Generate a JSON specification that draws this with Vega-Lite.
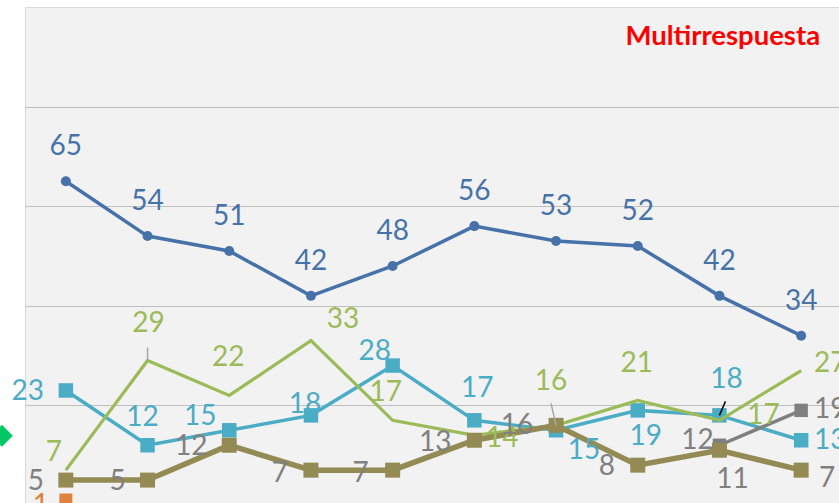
{
  "$schema": "https://vega.github.io/schema/vega-lite/v6.json",
  "width": 817,
  "height": 498,
  "autosize": {"type": "none"},
  "padding": {"left": 25, "top": 7, "right": 0, "bottom": 0},
  "background": "white",
  "config": {
    "view": {"fill": "#F2F2F2", "stroke": "#D9D9D9", "strokeWidth": 1},
    "font": "Lato"
  },
  "data": {
    "values": [
      {"p": 1, "s": "A", "v": 65}, {"p": 2, "s": "A", "v": 54}, {"p": 3, "s": "A", "v": 51}, {"p": 4, "s": "A", "v": 42}, {"p": 5, "s": "A", "v": 48},
      {"p": 6, "s": "A", "v": 56}, {"p": 7, "s": "A", "v": 53}, {"p": 8, "s": "A", "v": 52}, {"p": 9, "s": "A", "v": 42}, {"p": 10, "s": "A", "v": 34},
      {"p": 1, "s": "B", "v": 23}, {"p": 2, "s": "B", "v": 12}, {"p": 3, "s": "B", "v": 15}, {"p": 4, "s": "B", "v": 18}, {"p": 5, "s": "B", "v": 28},
      {"p": 6, "s": "B", "v": 17}, {"p": 7, "s": "B", "v": 15}, {"p": 8, "s": "B", "v": 19}, {"p": 9, "s": "B", "v": 18}, {"p": 10, "s": "B", "v": 13},
      {"p": 1, "s": "C", "v": 7}, {"p": 2, "s": "C", "v": 29}, {"p": 3, "s": "C", "v": 22}, {"p": 4, "s": "C", "v": 33}, {"p": 5, "s": "C", "v": 17},
      {"p": 6, "s": "C", "v": 14}, {"p": 7, "s": "C", "v": 16}, {"p": 8, "s": "C", "v": 21}, {"p": 9, "s": "C", "v": 17}, {"p": 10, "s": "C", "v": 27},
      {"p": 1, "s": "D", "v": 5}, {"p": 2, "s": "D", "v": 5}, {"p": 3, "s": "D", "v": 12}, {"p": 4, "s": "D", "v": 7}, {"p": 5, "s": "D", "v": 7},
      {"p": 6, "s": "D", "v": 13}, {"p": 7, "s": "D", "v": 16}, {"p": 8, "s": "D", "v": 8}, {"p": 9, "s": "D", "v": 11}, {"p": 10, "s": "D", "v": 7},
      {"p": 9, "s": "E", "v": 12}, {"p": 10, "s": "E", "v": 19},
      {"p": 1, "s": "F", "v": 1},
      {"p": 1, "s": "G", "v": 13.9}
    ]
  },
  "encoding": {
    "x": {"field": "p", "type": "ordinal", "scale": {"type": "point", "padding": 0.5}, "axis": null},
    "y": {
      "field": "v", "type": "quantitative",
      "scale": {"domain": [0, 100], "nice": false},
      "axis": {"grid": true, "gridColor": "#BFBFBF", "gridWidth": 1, "values": [20, 40, 60, 80], "labels": false, "ticks": false, "domain": false, "title": null}
    }
  },
  "layer": [
    {"transform": [{"filter": "datum.s=='B'"}], "mark": {"type": "line", "color": "#4BACC6", "strokeWidth": 3.5}},
    {"transform": [{"filter": "datum.s=='B'"}], "mark": {"type": "point", "shape": "square", "filled": true, "opacity": 1, "size": 210, "color": "#4BACC6"}},
    {"transform": [{"filter": "datum.s=='C'"}], "mark": {"type": "line", "color": "#9BBB59", "strokeWidth": 3.2}},
    {"transform": [{"filter": "datum.s=='E'"}], "mark": {"type": "line", "color": "#7F7F7F", "strokeWidth": 3.5}},
    {"transform": [{"filter": "datum.s=='E'"}], "mark": {"type": "point", "shape": "square", "filled": true, "opacity": 1, "size": 180, "color": "#7F7F7F"}},
    {"transform": [{"filter": "datum.s=='D'"}], "mark": {"type": "line", "color": "#948A54", "strokeWidth": 5.5}},
    {"transform": [{"filter": "datum.s=='D'"}], "mark": {"type": "point", "shape": "square", "filled": true, "opacity": 1, "size": 225, "color": "#948A54"}},
    {"transform": [{"filter": "datum.s=='A'"}], "mark": {"type": "line", "color": "#4672A9", "strokeWidth": 3.5}},
    {"transform": [{"filter": "datum.s=='A'"}], "mark": {"type": "point", "shape": "circle", "filled": true, "opacity": 1, "size": 100, "color": "#4672A9"}},
    {"transform": [{"filter": "datum.s=='F'"}], "mark": {"type": "point", "shape": "square", "filled": true, "opacity": 1, "size": 170, "color": "#E0823D"}},
    {"transform": [{"filter": "datum.s=='G'"}], "mark": {"type": "point", "shape": "diamond", "filled": true, "opacity": 1, "size": 480, "color": "#00C864", "xOffset": -64}},
    {"transform": [{"filter": "datum.s=='C' && datum.p==2"}], "mark": {"type": "rule", "color": "#A6A6A6", "strokeWidth": 1.5, "y2Offset": -13}, "encoding": {"x2": {"field": "p"}, "y2": {"field": "v"}}},
    {"transform": [{"filter": "datum.s=='C' && datum.p==7"}], "mark": {"type": "rule", "color": "#A6A6A6", "strokeWidth": 1.5, "x2Offset": -5, "y2Offset": -22}, "encoding": {"x2": {"field": "p"}, "y2": {"field": "v"}}},
    {"transform": [{"filter": "datum.s=='B' && datum.p==9"}], "mark": {"type": "rule", "color": "#000000", "strokeWidth": 1.5, "x2Offset": 6, "y2Offset": -14}, "encoding": {"x2": {"field": "p"}, "y2": {"field": "v"}}},
    {"transform": [{"filter": "datum.s=='A'"}], "mark": {"type": "text", "fontSize": 28, "color": "#4672A9", "baseline": "middle", "dy": -34}, "encoding": {"text": {"field": "v"}}},
    {"transform": [{"filter": "datum.s=='B'"}], "mark": {"type": "text", "fontSize": 28, "color": "#4BACC6", "baseline": "middle",
      "dx": {"expr": "[-38,-5,-29,-6,-18,3,28,8,7,29][datum.p-1]"},
      "dy": {"expr": "[2,-27,-13,-10,-14,-31,21,27,-35,1][datum.p-1]"}}, "encoding": {"text": {"field": "v"}}},
    {"transform": [{"filter": "datum.s=='C'"}], "mark": {"type": "text", "fontSize": 28, "color": "#9BBB59", "baseline": "middle",
      "dx": {"expr": "[-12,1,-1,32,-7,28,-5,-1,44,29][datum.p-1]"},
      "dy": {"expr": "[-17,-37,-37,-21,-27,4,-43,-36,-4,-7][datum.p-1]"}}, "encoding": {"text": {"field": "v"}}},
    {"transform": [{"filter": "datum.s=='D'"}], "mark": {"type": "text", "fontSize": 28, "color": "#808080", "baseline": "middle",
      "dx": {"expr": "[-30,-30,-38,-31,-32,-39,-39,-31,13,26][datum.p-1]"},
      "dy": {"expr": "[2,2,2,4,4,3,1,2,30,9][datum.p-1]"}}, "encoding": {"text": {"field": "v"}}},
    {"transform": [{"filter": "datum.s=='E'"}], "mark": {"type": "text", "fontSize": 28, "color": "#808080", "baseline": "middle",
      "dx": {"expr": "datum.p==9 ? -22 : 29"},
      "dy": {"expr": "datum.p==9 ? -4 : 0"}}, "encoding": {"text": {"field": "v"}}},
    {"transform": [{"filter": "datum.s=='F'"}], "mark": {"type": "text", "fontSize": 28, "color": "#E0823D", "baseline": "middle", "dx": -25, "dy": 6}, "encoding": {"text": {"field": "v"}}},
    {
      "transform": [{"filter": "datum.s=='A' && datum.p==10"}],
      "mark": {"type": "text", "text": "Multirrespuesta", "align": "right", "baseline": "alphabetic", "dx": 19, "font": "Lato", "fontSize": 27.5, "fontWeight": "bold", "color": "#FF0000"},
      "encoding": {
        "y": {"datum": 92.3, "type": "quantitative"}
      }
    }
  ]
}
